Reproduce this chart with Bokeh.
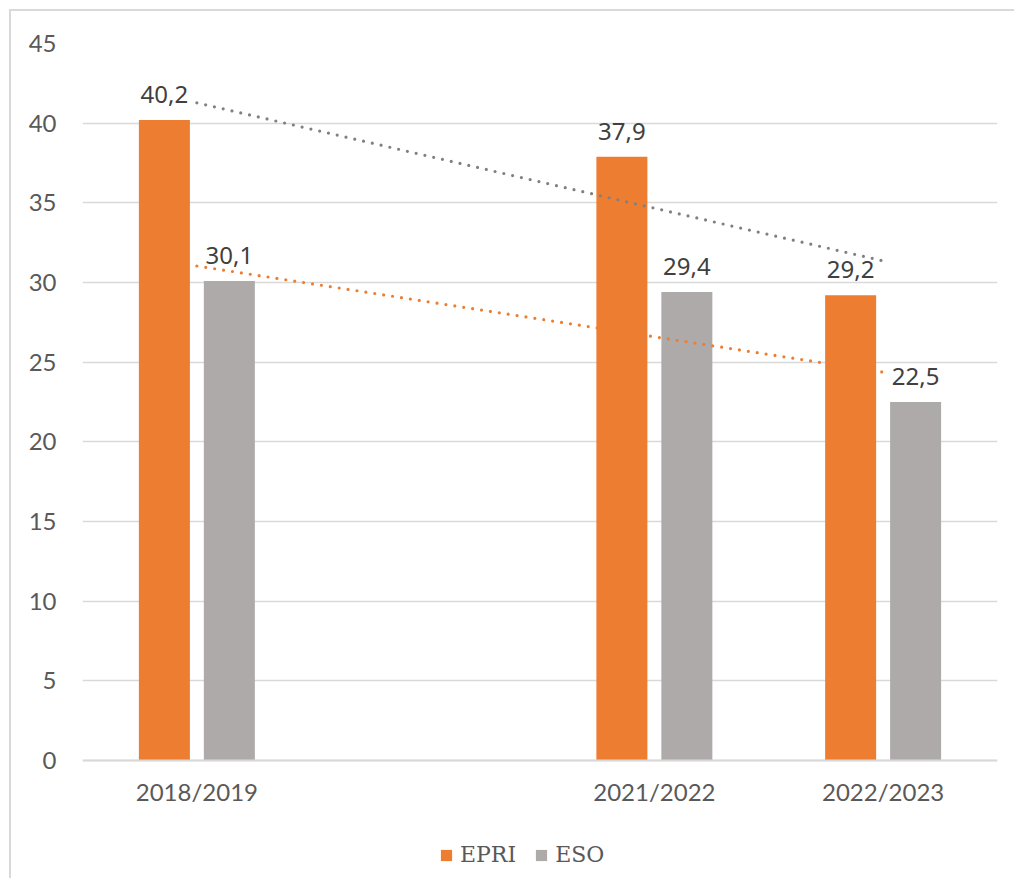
import numpy as np
from bokeh.plotting import figure
from bokeh.models import (ColumnDataSource, FactorRange, Range1d, FixedTicker,
                          Legend, LegendItem)
from bokeh.transform import dodge
from bokeh.core.properties import value
from bokeh.embed import file_html
from bokeh.resources import INLINE

# ---- data ----
categories = ["2018/2019", " ", "2021/2022", "2022/2023"]
bar_categories = ["2018/2019", "2021/2022", "2022/2023"]
epri = [40.2, 37.9, 29.2]
eso = [30.1, 29.4, 22.5]
y_ticks = [0, 5, 10, 15, 20, 25, 30, 35, 40, 45]

ORANGE = "#ED7D31"
GRAY = "#AEAAAA"
TEXT = "#595959"
LABEL = "#404040"
GRID = "#D9D9D9"

def fmt(v):
    return f"{v:.1f}".replace(".", ",")

src = ColumnDataSource(dict(
    cat=bar_categories,
    epri=epri,
    eso=eso,
    epri_lbl=[fmt(v) for v in epri],
    eso_lbl=[fmt(v) for v in eso],
))

# plot area: 717 px for 0..45, plus 118 px below zero for axis labels + legend
PLOT_PX, BELOW_PX = 717, 118
p = figure(frame_width=915, frame_height=PLOT_PX + BELOW_PX, output_backend="svg",
           toolbar_location=None,
           x_range=FactorRange(*categories, range_padding=0),
           y_range=Range1d(-y_ticks[-1] * BELOW_PX / PLOT_PX, y_ticks[-1]),
           min_border_left=71, min_border_right=17, min_border_top=32,
           min_border_bottom=0)
p.styles = {"margin-left": "9px", "margin-top": "9px",
            "border-left": "2px solid #D9D9D9", "border-top": "2px solid #D9D9D9"}

r_epri = p.vbar(x=dodge("cat", -0.142, range=p.x_range), top="epri", bottom=0,
                width=0.223, source=src, fill_color=ORANGE, line_color=None)
r_eso = p.vbar(x=dodge("cat", 0.142, range=p.x_range), top="eso", bottom=0,
               width=0.223, source=src, fill_color=GRAY, line_color=None)

# linear trendlines (as in the spreadsheet), over category positions
pos = np.array([categories.index(c) for c in bar_categories], dtype=float)
for vals, col in ((epri, "#808080"), (eso, ORANGE)):
    k, b = np.polyfit(pos, np.array(vals), 1)
    p.line(x=[bar_categories[0], bar_categories[-1]],
           y=[k * pos[0] + b, k * pos[-1] + b],
           line_color=col, line_width=3.2, line_dash="0 9", line_cap="round")

# data labels
for xo, col, lbl in ((-0.142, "epri", "epri_lbl"), (0.142, "eso", "eso_lbl")):
    p.text(x=dodge("cat", xo, range=p.x_range), y=col, text=lbl, source=src,
           text_align="center", text_baseline="bottom", y_offset=-17,
           text_font=value("Noto Sans"), text_font_size="24px", text_color=LABEL)

# axes
p.yaxis.ticker = FixedTicker(ticks=y_ticks)
p.yaxis.axis_line_color = None
p.yaxis.major_tick_line_color = None
p.yaxis.minor_tick_line_color = None
p.yaxis.major_label_standoff = 20
p.yaxis.major_label_text_font = "Lato"
p.yaxis.major_label_text_font_size = "24px"
p.yaxis.major_label_text_color = TEXT

p.xaxis.fixed_location = 0
p.xaxis.axis_line_color = GRID
p.xaxis.axis_line_width = 2
p.xaxis.major_tick_line_color = None
p.xaxis.minor_tick_line_color = None
p.xaxis.major_label_standoff = 10
p.xaxis.major_label_text_font = "Lato"
p.xaxis.major_label_text_font_size = "24px"
p.xaxis.major_label_text_color = TEXT

p.xgrid.grid_line_color = None
p.ygrid.grid_line_color = GRID
p.ygrid.grid_line_width = 1.5
p.outline_line_color = None

legend = Legend(items=[LegendItem(label="EPRI", renderers=[r_epri]),
                       LegendItem(label="ESO", renderers=[r_eso])],
                orientation="horizontal", location=(357, 11),
                label_text_font="DejaVu Serif", label_text_font_size="22px",
                label_text_color=TEXT, glyph_width=14, glyph_height=14,
                label_standoff=7, spacing=18, border_line_color=None,
                background_fill_alpha=0, padding=2, margin=0)
p.add_layout(legend, "center")

open("out.html", "w").write(file_html(p, INLINE))
